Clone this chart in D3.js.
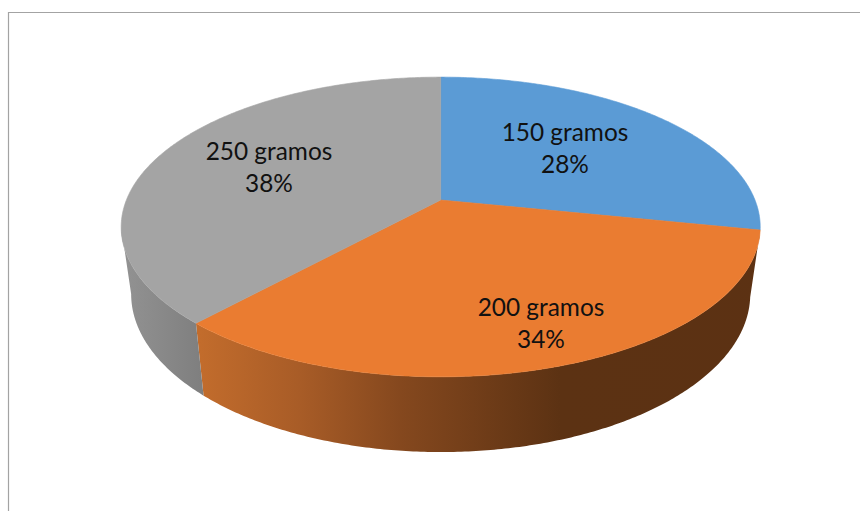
<!DOCTYPE html>
<html>
<head>
<meta charset="utf-8">
<script src="https://d3js.org/d3.v7.min.js"></script>
<style>
  html, body { margin: 0; padding: 0; background: #fff; }
  svg { display: block; }
  .label { font-family: Lato, "Open Sans", sans-serif; font-size: 24.4px; fill: #111; text-anchor: middle; }
</style>
</head>
<body>
<svg id="chart" width="860" height="511"></svg>
<script>
var categories = ['150 gramos', '200 gramos', '250 gramos'];
var shares = [28.2, 33.6, 38.2];
var topColors = ['#5b9bd5', '#ea7c31', '#a4a4a4'];

var svg = d3.select('#chart');

// chart frame, only the top and left edges show in the window
svg.append('path')
	.attr('d', 'M8.5,511V12.5H860')
	.attr('fill', 'none')
	.attr('stroke', '#a3a3a3')
	.attr('stroke-width', 1.2);

// the disc is seen in perspective: k shifts the apex up from the ellipse centre
var k = 0.18;
var topDisc = {cx: 440.7, cy: 200, a: 314.3, b: 145};
var lowDisc = {cx: 440.7, cy: 265.6, a: 304.5, b: 152.9};

function project(disc, angle) {
	var u = Math.sin(angle), v = -Math.cos(angle), w = 1 - k * v;
	return [disc.cx + disc.a * u / w, disc.cy + disc.b * v / w];
}

function arcPoints(disc, a0, a1) {
	var n = Math.max(2, Math.ceil(Math.abs(a1 - a0) / 0.01));
	return d3.range(n + 1).map(function(i) {
		return project(disc, a0 + (a1 - a0) * i / n);
	});
}

var line = d3.line();
var slices = d3.pie().sort(null)(shares);

// side wall shading runs left to right
var defs = svg.append('defs');

function wallGradient(id, stops) {
	var g = defs.append('linearGradient')
		.attr('id', id)
		.attr('gradientUnits', 'userSpaceOnUse')
		.attr('x1', 0).attr('x2', 860)
		.attr('y1', 0).attr('y2', 0);
	stops.forEach(function(s) {
		g.append('stop').attr('offset', s[0] / 860).attr('stop-color', s[1]);
	});
}

wallGradient('wall0', [[0, '#3f6d96'], [860, '#3f6d96']]);
wallGradient('wall1', [[200, '#c26c2c'], [300, '#a85c27'], [400, '#85481e'], [560, '#5c3213'], [860, '#5c3113']]);
wallGradient('wall2', [[120, '#939393'], [205, '#7e7e7e']]);

// only the front of the wall shows, between the two silhouette angles
var frontStart = Math.acos(-k), frontEnd = 2 * Math.PI - frontStart;

slices.forEach(function(d, i) {
	var a0 = Math.max(d.startAngle, frontStart);
	var a1 = Math.min(d.endAngle, frontEnd);
	if (a1 - a0 < 0.05) return;
	svg.append('path')
		.attr('d', line(arcPoints(topDisc, a0, a1).concat(arcPoints(lowDisc, a1, a0))) + 'Z')
		.attr('fill', 'url(#wall' + i + ')');
});

slices.forEach(function(d, i) {
	var pts = [[topDisc.cx, topDisc.cy]].concat(arcPoints(topDisc, d.startAngle, d.endAngle));
	svg.append('path')
		.attr('d', line(pts) + 'Z')
		.attr('fill', topColors[i])
		.attr('stroke', topColors[i])
		.attr('stroke-width', 0.6)
		.attr('stroke-linejoin', 'round');
});

var labelAt = [[565, 141], [541, 316], [269, 160]];

categories.forEach(function(c, i) {
	var t = svg.append('text')
		.attr('class', 'label')
		.attr('x', labelAt[i][0])
		.attr('y', labelAt[i][1]);
	t.append('tspan').attr('x', labelAt[i][0]).text(c);
	t.append('tspan').attr('x', labelAt[i][0]).attr('dy', 32).text(Math.round(shares[i]) + '%');
});
</script>
</body>
</html>
